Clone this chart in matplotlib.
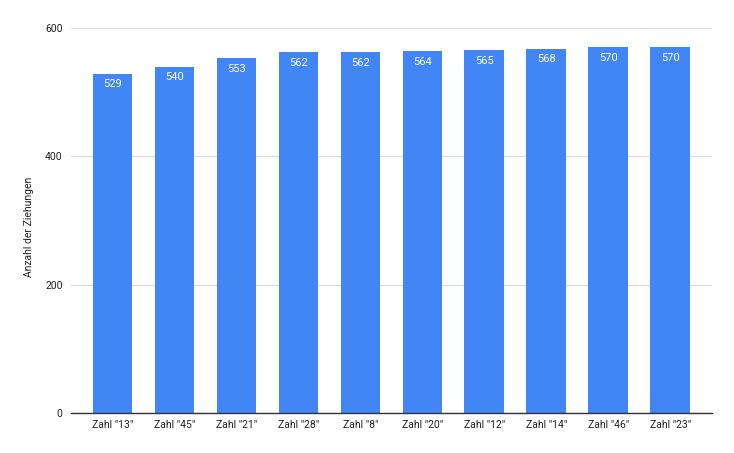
import matplotlib
matplotlib.use("Agg")
import matplotlib.pyplot as plt

categories = ['Zahl "13"', 'Zahl "45"', 'Zahl "21"', 'Zahl "28"', 'Zahl "8"',
              'Zahl "20"', 'Zahl "12"', 'Zahl "14"', 'Zahl "46"', 'Zahl "23"']
values = [529, 540, 553, 562, 562, 564, 565, 568, 570, 570]
yticks = [0, 200, 400, 600]
ylabel = "Anzahl der Ziehungen"

plt.rcParams['font.family'] = ['Roboto', 'DejaVu Sans']

fig = plt.figure(figsize=(7.34, 4.53), dpi=100)
ax = fig.add_axes([71/734, 1-413/453, (711.7-71)/734, (413-28)/453])

bars = ax.bar(range(len(values)), values, width=0.64, color="#4285F4", zorder=3)
for i, v in enumerate(values):
    ax.text(i, v - 8.5, str(v), ha="center", va="top", color="white", fontsize=8, zorder=4)

ax.set_xlim(-0.67, len(values) - 1 + 0.67)
ax.set_ylim(0, 600)
ax.set_yticks(yticks)
ax.set_yticklabels([str(t) for t in yticks])
ax.set_xticks(range(len(values)))
ax.set_xticklabels(categories)
ax.tick_params(axis="both", length=0, labelsize=7.5, colors="#222222")
ax.tick_params(axis="y", pad=6)
ax.tick_params(axis="x", pad=5)
ax.grid(axis="y", color="#dddddd", linewidth=0.9, zorder=0)
for s in ["top", "right", "left"]:
    ax.spines[s].set_visible(False)
ax.spines["bottom"].set_color("#333333")
ax.spines["bottom"].set_linewidth(1.0)
ax.spines["bottom"].set_zorder(5)
ax.set_ylabel(ylabel, fontsize=7.5, color="#222222")
ax.yaxis.set_label_coords(-0.058, 0.484)

fig.savefig("out.png", dpi=100)
